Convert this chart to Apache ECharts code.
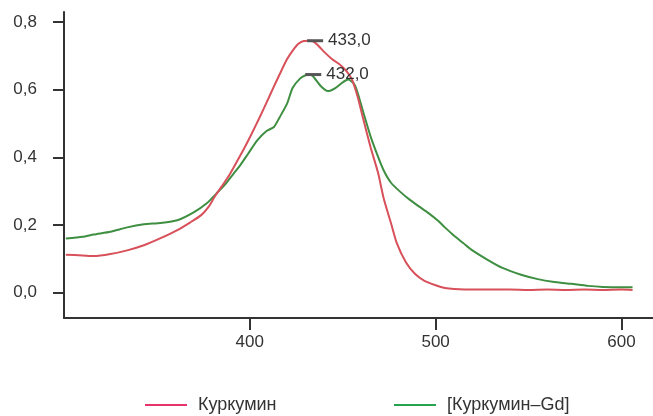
<!DOCTYPE html>
<html>
<head>
<meta charset="utf-8">
<script src="https://cdn.jsdelivr.net/npm/echarts@6/dist/echarts.min.js"></script>
<style>
  html, body { margin: 0; padding: 0; background: #fff; }
  #chart { width: 653px; height: 416px; }
</style>
</head>
<body>
<div id="chart"></div>
<script>
// wavelength (nm), absorbance
var curcumin = [
  [301, 0.112], [310, 0.110], [316, 0.108], [325, 0.114], [334, 0.125], [343, 0.140],
  [352, 0.161], [361, 0.185], [368, 0.208], [374, 0.230], [378, 0.255], [381, 0.283],
  [385, 0.315], [389, 0.348], [393, 0.387], [397, 0.427], [401, 0.470], [405, 0.515],
  [409, 0.562], [413, 0.610], [416, 0.645], [420, 0.690], [423, 0.715], [426, 0.735],
  [429, 0.744], [433, 0.745], [436, 0.735], [440, 0.712], [444, 0.692], [449, 0.672],
  [452, 0.655], [455, 0.630], [458, 0.580], [461, 0.515], [465, 0.430], [469, 0.355],
  [472, 0.280], [476, 0.205], [479, 0.148], [484, 0.090], [489, 0.055], [494, 0.035],
  [500, 0.022], [505, 0.014], [510, 0.011], [520, 0.009], [530, 0.009], [540, 0.009],
  [550, 0.008], [560, 0.009], [570, 0.008], [580, 0.009], [590, 0.008], [600, 0.009],
  [606, 0.008]
];
var curcuminGd = [
  [301, 0.160], [310, 0.165], [316, 0.172], [325, 0.180], [334, 0.193], [343, 0.202],
  [352, 0.206], [361, 0.214], [370, 0.238], [377, 0.265], [382, 0.293], [387, 0.322],
  [391, 0.350], [395, 0.378], [399, 0.410], [404, 0.450], [409, 0.478], [413, 0.490],
  [416, 0.518], [420, 0.558], [423, 0.605], [427, 0.633], [430, 0.643], [432, 0.645],
  [434, 0.640], [438, 0.612], [442, 0.596], [446, 0.605], [450, 0.622], [453, 0.630],
  [456, 0.618], [458, 0.592], [461, 0.535], [465, 0.462], [469, 0.402], [472, 0.362],
  [476, 0.325], [481, 0.298], [486, 0.275], [491, 0.255], [496, 0.236], [501, 0.214],
  [505, 0.193], [510, 0.168], [515, 0.146], [519, 0.128], [528, 0.097], [536, 0.073],
  [546, 0.053], [555, 0.040], [563, 0.032], [573, 0.026], [582, 0.020], [590, 0.017],
  [600, 0.016], [606, 0.016]
];
var seriesNames = ['Куркумин', '[Куркумин–Gd]'];
var peaks = [433, 432];
var xTicks = [400, 500, 600];
var yTicks = [0, 0.2, 0.4, 0.6, 0.8];

var lineColors = ['#d8505a', '#3f8f42'];
var legendColors = ['#e8336a', '#25a34e'];

function comma(v, d) {
  return v.toFixed(d).replace('.', ',');
}

function peakPoint(data, x) {
  for (var i = 0; i < data.length; i++) {
    if (data[i][0] === x) return data[i];
  }
  return null;
}

var chart = echarts.init(document.getElementById('chart'));
var font = 'Liberation Sans, Arial, sans-serif';

var allData = [curcumin, curcuminGd];
var series = allData.map(function (d, i) {
  var p = peakPoint(d, peaks[i]);
  return {
    name: seriesNames[i],
    type: 'line',
    data: d,
    smooth: 0.2,
    showSymbol: false,
    lineStyle: { color: lineColors[i], width: 2 },
    itemStyle: { color: lineColors[i] },
    z: i === 0 ? 3 : 2,
    markPoint: {
      silent: true,
      symbol: 'rect',
      symbolSize: [16, 3],
      symbolOffset: [4, 0],
      itemStyle: { color: '#555' },
      label: {
        show: true,
        position: 'right',
        distance: 5,
        color: '#333',
        fontSize: 17,
        fontFamily: font,
        formatter: function () { return comma(peaks[i], 1); }
      },
      data: [{ coord: p }]
    }
  };
});

var option = {
  animation: false,
  grid: { left: 64, right: 0, top: 12, bottom: 98 },
  legend: seriesNames.map(function (n, i) {
    return {
      data: [n],
      left: i === 0 ? 140 : 389,
      top: 391,
      icon: 'rect',
      itemWidth: 42,
      itemHeight: 2,
      itemStyle: { color: legendColors[i] },
      textStyle: { color: '#333', fontSize: 18, fontFamily: font, padding: [0, 0, 0, 6] }
    };
  }),
  xAxis: {
    type: 'value',
    min: 300,
    max: 617,
    axisLine: { onZero: false, lineStyle: { color: '#333', width: 2 } },
    axisTick: { length: 12, lineStyle: { color: '#333', width: 2 }, customValues: xTicks },
    axisLabel: { color: '#333', fontSize: 17, fontFamily: font, margin: 16, customValues: xTicks },
    splitLine: { show: false }
  },
  yAxis: {
    type: 'value',
    min: -0.075,
    max: 0.83,
    axisLine: { show: true, onZero: false, lineStyle: { color: '#333', width: 2 } },
    axisTick: { show: true, length: 11, lineStyle: { color: '#333', width: 2 }, customValues: yTicks },
    axisLabel: {
      color: '#333', fontSize: 17, fontFamily: font, margin: 27, customValues: yTicks,
      formatter: function (v) { return comma(v, 1); }
    },
    splitLine: { show: false }
  },
  series: series
};

chart.setOption(option);
</script>
</body>
</html>
